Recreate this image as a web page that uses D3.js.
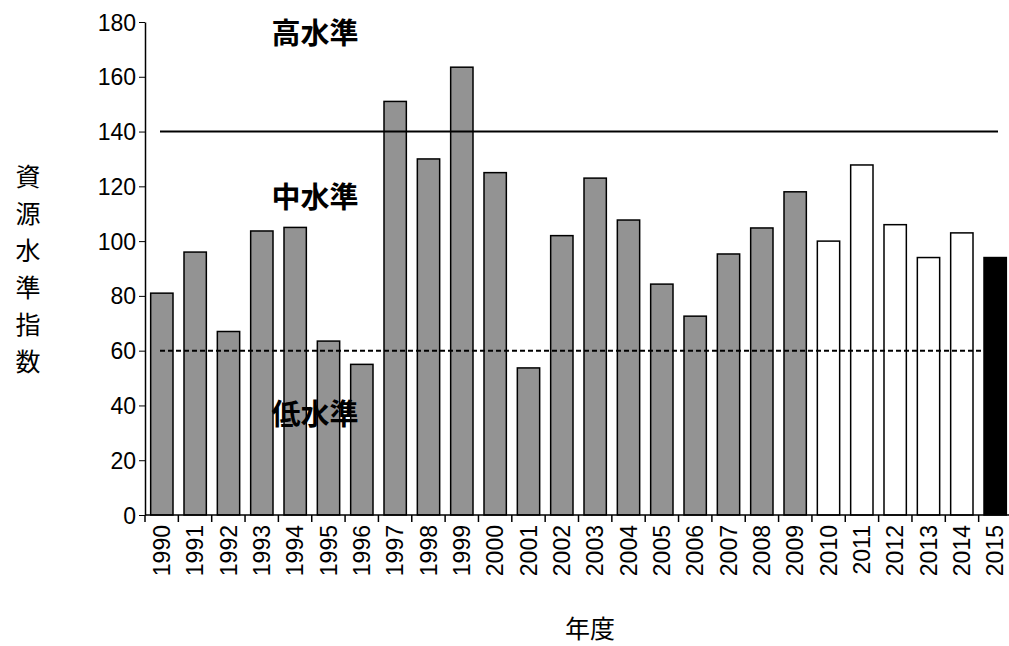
<!DOCTYPE html>
<html><head><meta charset="utf-8">
<script src="https://cdn.jsdelivr.net/npm/d3@7"></script>
<style>body{margin:0;background:#fff}</style>
</head><body><div id="chart"></div>
<script>
const years = d3.range(1990, 2016).map(String);
const values = [81, 96, 67, 103.7, 105, 63.5, 55, 151, 130, 163.5, 125, 53.7, 102, 123, 107.7, 84.3, 72.6, 95.3, 104.8, 118, 100, 127.8, 106, 94, 103, 94];
const fills = years.map(y => +y <= 2009 ? '#939393' : (+y === 2015 ? '#000' : '#fff'));
const yTicks = d3.range(0, 181, 20);
const levelLines = [{v: 140, dash: null}, {v: 60, dash: '5,3'}];
const levelLabels = [{t: '高水準', v: 172}, {t: '中水準', v: 112}, {t: '低水準', v: 33}];

const W = 1009, H = 646;
const svg = d3.select('#chart').append('svg').attr('width', W).attr('height', H);
const font = '"Liberation Sans", Arial, sans-serif';
const cjk = '"Noto Sans CJK JP", sans-serif';

const x = d3.scaleBand().domain(years).range([145, 1012]).paddingInner(0.33).paddingOuter(0.17);
const y = d3.scaleLinear().domain([0, 180]).range([515, 22]);

svg.selectAll('rect.bar').data(values).join('rect')
  .attr('x', (d, i) => x(years[i])).attr('width', x.bandwidth())
  .attr('y', d => y(d)).attr('height', d => y(0) - y(d))
  .attr('fill', (d, i) => fills[i]).attr('stroke', '#000').attr('stroke-width', 1.5);

svg.selectAll('line.lv').data(levelLines).join('line')
  .attr('x1', 160).attr('x2', 998).attr('y1', d => y(d.v)).attr('y2', d => y(d.v))
  .attr('stroke', '#000').attr('stroke-width', 2).attr('stroke-dasharray', d => d.dash);

svg.selectAll('text.lv').data(levelLabels).join('text')
  .attr('x', 315).attr('y', d => y(d.v)).attr('text-anchor', 'middle')
  .attr('font-family', cjk).attr('font-weight', 'bold').attr('font-size', 29)
  .text(d => d.t);

const ya = svg.append('g').attr('transform', 'translate(145,0)')
  .call(d3.axisLeft(y).tickValues(yTicks).tickSize(6).tickSizeOuter(0));
ya.selectAll('text').attr('font-family', font).attr('font-size', 23).attr('fill', '#000').attr('dy', '0.35em');
ya.select('.domain').attr('stroke-width', 1.5);

const xa = svg.append('g').attr('transform', 'translate(0,515)')
  .call(d3.axisBottom(x).tickSize(0).tickSizeOuter(0));
xa.select('.domain').attr('d', 'M145,0H1012').attr('stroke-width', 1.5);
xa.selectAll('.tick line').remove();
d3.range(27).forEach(i => {
  const px = 145 + i * (867 / 26);
  xa.append('line').attr('x1', px).attr('x2', px).attr('y1', 0).attr('y2', 7).attr('stroke', '#000').attr('stroke-width', 1.5);
});
xa.selectAll('.tick text').attr('font-family', font).attr('font-size', 23).attr('fill', '#000')
  .attr('transform', 'rotate(-90)').attr('text-anchor', 'end').attr('x', -10).attr('y', 0).attr('dy', '0.35em');

const ylab = '資源水準指数'.split('');
svg.selectAll('text.yl').data(ylab).join('text')
  .attr('x', 28).attr('y', (d, i) => 186 + i * 37).attr('text-anchor', 'middle')
  .attr('font-family', cjk).attr('font-size', 25).text(d => d);

svg.append('text').attr('x', 590).attr('y', 638).attr('text-anchor', 'middle')
  .attr('font-family', cjk).attr('font-size', 25).text('年度');
</script></body></html>
